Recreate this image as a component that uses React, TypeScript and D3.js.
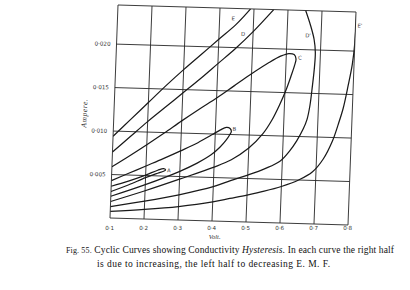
import React from 'react';
import * as d3 from 'd3';

// ---------- data (volt, ampere) ----------
const xTickValues = [0.1, 0.2, 0.3, 0.4, 0.5, 0.6, 0.7, 0.8];
const xTickLabels = ['0·1', '0·2', '0·3', '0·4', '0·5', '0·6', '0·7', '0·8'];
const yTickValues = [0.005, 0.010, 0.015, 0.020];
const yTickLabels = ['0·005', '0·010', '0·015', '0·020'];

// Loop A (increasing branch then decreasing branch)
const loopA_volt = [0.10, 0.15, 0.20, 0.235, 0.252, 0.258, 0.252, 0.235, 0.20, 0.15, 0.10];
const loopA_amp = [0.00305, 0.00385, 0.00475, 0.0053, 0.00555, 0.0057, 0.00585, 0.00565, 0.00505, 0.0043, 0.00365];

// Loop B
const loopB_volt = [0.10, 0.20, 0.30, 0.35, 0.39, 0.415, 0.432, 0.443, 0.447, 0.443, 0.432, 0.415, 0.39, 0.35, 0.30, 0.25, 0.20, 0.15, 0.10];
const loopB_amp = [0.0025, 0.00395, 0.0056, 0.0066, 0.0076, 0.0085, 0.0093, 0.0100, 0.01035, 0.0107, 0.0108, 0.0105, 0.0099, 0.00895, 0.00795, 0.0070, 0.0061, 0.0052, 0.0043];

// Loop C
const loopC_volt = [0.10, 0.20, 0.30, 0.40, 0.45, 0.50, 0.54, 0.565, 0.585, 0.603, 0.616, 0.625, 0.629, 0.623, 0.607, 0.585, 0.55, 0.50, 0.45, 0.40, 0.35, 0.30, 0.25, 0.20, 0.15, 0.10];
const loopC_amp = [0.0019, 0.00325, 0.0047, 0.0062, 0.0071, 0.0085, 0.0102, 0.0118, 0.0135, 0.0153, 0.0169, 0.0181, 0.0189, 0.0194, 0.0195, 0.0192, 0.0184, 0.01705, 0.0156, 0.01415, 0.0128, 0.0114, 0.00995, 0.00855, 0.0072, 0.0059];

// Loop D (turning point beyond the top of the chart)
const loopDinc_volt = [0.10, 0.20, 0.30, 0.40, 0.45, 0.50, 0.55, 0.593, 0.62, 0.64, 0.658, 0.668, 0.675, 0.68, 0.684, 0.685, 0.68, 0.668, 0.652];
const loopDinc_amp = [0.0013, 0.00205, 0.0029, 0.00395, 0.0047, 0.0054, 0.0062, 0.0071, 0.0083, 0.0095, 0.0109, 0.012, 0.0136, 0.0158, 0.018, 0.0197, 0.0212, 0.0228, 0.0245];
const loopDdec_volt = [0.10, 0.15, 0.20, 0.25, 0.30, 0.35, 0.40, 0.45, 0.50, 0.558];
const loopDdec_amp = [0.0076, 0.0094, 0.0112, 0.0129, 0.0146, 0.0163, 0.0181, 0.0199, 0.0219, 0.0245];

// Loop E
const loopEinc_volt = [0.10, 0.20, 0.30, 0.40, 0.45, 0.50, 0.55, 0.60, 0.65, 0.69, 0.72, 0.745, 0.76, 0.773, 0.785, 0.795, 0.80, 0.802];
const loopEinc_amp = [0.00075, 0.0011, 0.00155, 0.0022, 0.00265, 0.0031, 0.0036, 0.0042, 0.005, 0.006, 0.0075, 0.0096, 0.0115, 0.0134, 0.016, 0.0185, 0.021, 0.0245];
const loopEdec_volt = [0.10, 0.15, 0.20, 0.25, 0.30, 0.35, 0.40, 0.45, 0.49];
const loopEdec_amp = [0.0094, 0.0114, 0.0134, 0.0154, 0.0173, 0.0191, 0.0209, 0.0227, 0.0245];

const curveLabelText = ['A', 'B', 'C', 'D', "D'", 'E', "E'"];
const curveLabelVolt = [0.268, 0.456, 0.640, 0.471, 0.662, 0.440, 0.813];
const curveLabelAmp = [0.0056, 0.0106, 0.0190, 0.02155, 0.0216, 0.0233, 0.0229];

const zip = (vs: number[], as: number[]): [number, number][] => vs.map((v, i) => [v, as[i]]);

const series: [number, number][][] = [
  zip(loopA_volt, loopA_amp),
  zip(loopB_volt, loopB_amp),
  zip(loopC_volt, loopC_amp),
  zip(loopDinc_volt, loopDinc_amp),
  zip(loopDdec_volt, loopDdec_amp),
  zip(loopEinc_volt, loopEinc_amp),
  zip(loopEdec_volt, loopEdec_amp),
];

// ---------- layout ----------
const W = 410, H = 290;
const L = 114, R = 352, T = 9, B = 222;
// the scanned page is slightly rotated / skewed
const SK_A = 1, SK_B = 0.0294, SK_C = -0.0376, SK_D = 1, SK_E = 4.34, SK_F = -7.35;

export default function App() {
  const x = d3.scaleLinear().domain([0.1, 0.8]).range([L, R]);
  const y = d3.scaleLinear().domain([0, 0.0245]).range([B, T]);
  const line = d3
    .line<[number, number]>()
    .x((d) => x(d[0]))
    .y((d) => y(d[1]))
    .curve(d3.curveCatmullRom.alpha(0.5));

  const ink = '#1a1a1a';
  const grid = '#2a2a2a';
  const bottomShift = SK_C * (B + 8) + SK_E;

  return (
    <svg
      width={W}
      height={H}
      viewBox={`0 0 ${W} ${H}`}
      style={{ position: 'absolute', left: 0, top: 0, background: '#fff' }}
    >
      <defs>
        <clipPath id="plotClip">
          <rect x={L} y={T} width={R - L} height={B - T} />
        </clipPath>
      </defs>
      <rect x={0} y={0} width={W} height={H} fill="#fff" />
      <g transform={`matrix(${SK_A},${SK_B},${SK_C},${SK_D},${SK_E},${SK_F})`}>
        {/* grid */}
        {xTickValues.map((v) => (
          <line key={'gx' + v} x1={x(v)} x2={x(v)} y1={T} y2={B} stroke={grid} strokeWidth={0.9} />
        ))}
        {[0, ...yTickValues, 0.0245].map((v) => (
          <line key={'gy' + v} x1={L} x2={R} y1={y(v)} y2={y(v)} stroke={grid} strokeWidth={0.9} />
        ))}
        {/* y tick labels */}
        {yTickValues.map((v, i) => (
          <text
            key={'yt' + v}
            x={L - 6}
            y={y(v) + 2}
            textAnchor="end"
            fontFamily="DejaVu Sans, sans-serif"
            fontSize={5.6}
            fill="#333"
          >
            {yTickLabels[i]}
          </text>
        ))}
        <text
          transform={`translate(${L - 27},${118}) rotate(-90)`}
          textAnchor="middle"
          fontFamily="Liberation Serif, serif"
          fontStyle="italic"
          fontSize={7.5}
          letterSpacing={0.6}
          fill="#333"
        >
          Ampere.
        </text>
        {/* curves */}
        <g clipPath="url(#plotClip)">
          {series.map((s, i) => (
            <path key={'s' + i} d={line(s) || ''} fill="none" stroke={ink} strokeWidth={1.25} strokeLinejoin="round" />
          ))}
        </g>
        {curveLabelText.map((t, i) => (
          <text
            key={'cl' + i}
            x={x(curveLabelVolt[i])}
            y={y(curveLabelAmp[i])}
            textAnchor="middle"
            dominantBaseline="middle"
            fontFamily="DejaVu Sans, sans-serif"
            fontSize={5.3}
            fill="#333"
          >
            {t}
          </text>
        ))}
      </g>
      {/* x tick labels (flat on the page) */}
      {xTickValues.map((v, i) => (
        <text
          key={'xt' + v}
          x={x(v) + bottomShift}
          y={230}
          textAnchor="middle"
          fontFamily="DejaVu Sans, sans-serif"
          fontSize={5.6}
          fill="#333"
        >
          {xTickLabels[i]}
        </text>
      ))}
      <text
        x={x(0.4) + bottomShift + 3}
        y={239}
        textAnchor="middle"
        fontFamily="Liberation Serif, serif"
        fontStyle="italic"
        fontSize={6.5}
        fill="#333"
      >
        Volt.
      </text>
      {/* caption */}
      <text x={66} y={253} fontFamily="Liberation Serif, serif" fontSize={9.5} fill="#111" textLength={328} lengthAdjust="spacing">
        <tspan fontSize={8}>Fig. 55.</tspan>
        <tspan> Cyclic Curves  showing Conductivity </tspan>
        <tspan fontStyle="italic">Hysteresis.</tspan>
        <tspan>  In each curve the right half</tspan>
      </text>
      <text x={97} y={267} fontFamily="Liberation Serif, serif" fontSize={9.5} fill="#111" textLength={233} lengthAdjust="spacing">
        is due to increasing, the left half to decreasing E. M. F.
      </text>
    </svg>
  );
}
